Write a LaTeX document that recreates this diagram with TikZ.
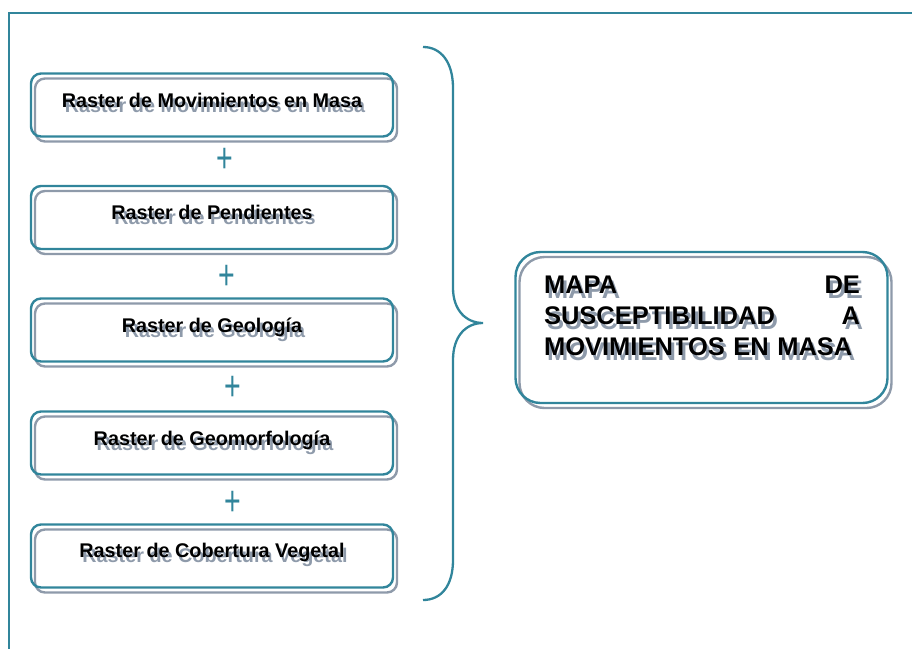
\documentclass[tikz,border=0pt]{standalone}
\usepackage{fontspec}
\setmainfont{Liberation Sans}
\usetikzlibrary{shadows}

\definecolor{frameteal}{RGB}{49,133,155}
\definecolor{shadowgrey}{RGB}{142,154,170}
% text with a grey copy below it
\newcommand{\shadowed}[1]{\makebox[0pt][l]{\hspace{3pt}\raisebox{-5pt}{\color{shadowgrey}#1}}#1}

\begin{document}
\begin{tikzpicture}[x=1pt,y=-1pt,
  greyshadow/.style={copy shadow={fill=none,draw=shadowgrey,line width=2.4pt,shadow xshift=4pt,shadow yshift=-5pt}},
  rasterbox/.style={draw=frameteal,fill=none,line width=2.4pt,rounded corners=10pt,minimum width=362pt,minimum height=63pt,inner sep=0pt,greyshadow},
  rastertxt/.style={anchor=base,font=\fontsize{19.8}{22}\selectfont\bfseries,inner sep=0pt},
  plussign/.style={text=frameteal,font=\fontsize{42}{42}\selectfont,inner sep=0pt}]
\useasboundingbox (0,0) rectangle (912,648);
\draw[frameteal,line width=2pt] (913,12.5) -- (9,12.5) -- (9,649);
\node[rasterbox] (r_mov) at (212,105) {};
\node[rasterbox] (r_pend) at (212,217.5) {};
\node[rasterbox] (r_geol) at (212,330) {};
\node[rasterbox] (r_geom) at (212,443) {};
\node[rasterbox] (r_cob) at (212,556) {};
\node[rastertxt] (t_mov) at ([yshift=-2pt]r_mov.center) {\shadowed{Raster de Movimientos en Masa}};
\node[rastertxt] (t_pend) at ([yshift=-1.5pt]r_pend.center) {\shadowed{Raster de Pendientes}};
\node[rastertxt] (t_geol) at ([yshift=-2pt]r_geol.center) {\shadowed{Raster de Geología}};
\node[rastertxt] (t_geom) at ([yshift=-2pt]r_geom.center) {\shadowed{Raster de Geomorfología}};
\node[rastertxt] (t_cob) at ([yshift=-1pt]r_cob.center) {\shadowed{Raster de Cobertura Vegetal}};
\node[plussign] (p1) at (225,160) {\scalebox{0.68}[1]{+}};
\node[plussign] (p2) at (227,277) {\scalebox{0.68}[1]{+}};
\node[plussign] (p3) at (233,388) {\scalebox{0.68}[1]{+}};
\node[plussign] (p4) at (233,503) {\scalebox{0.68}[1]{+}};
% brace
\draw[frameteal,line width=2.3pt] (423,47) .. controls (441,47) and (453,62) .. (453,88) -- (453,288)
  .. controls (453,310) and (466,323) .. (483,323) .. controls (466,323) and (453,336) .. (453,360)
  -- (453,560) .. controls (453,586) and (441,600) .. (423,600);
\node[draw=frameteal,fill=none,line width=2.4pt,rounded corners=25pt,minimum width=372pt,minimum height=151pt,inner sep=0pt,greyshadow] (mapa) at (701.5,327.5) {};
\node[align=left,text width=316pt,inner sep=0pt,font=\fontsize{25.5}{31}\selectfont\bfseries] (t_mapa) at (702,318)
  {\shadowed{MAPA}\hfill\shadowed{DE}\\\shadowed{SUSCEPTIBILIDAD}\hfill\shadowed{A}\\\shadowed{MOVIMIENTOS EN MASA}};
\end{tikzpicture}
\end{document}
